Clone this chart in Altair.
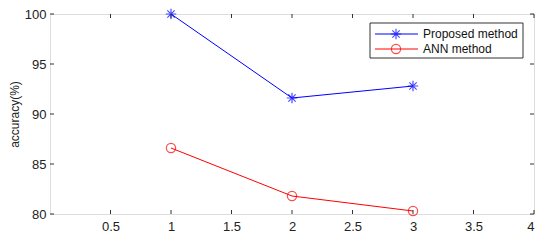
import altair as alt
import pandas as pd

x_vals = [1, 2, 3]
proposed = [100, 91.6, 92.8]
ann = [86.6, 81.8, 80.3]
series_names = ["Proposed method", "ANN method"]
x_ticks = [0.5, 1, 1.5, 2, 2.5, 3, 3.5, 4]
y_ticks = [80, 85, 90, 95, 100]

W, H = 484, 200
FONT = "Liberation Sans"

df = pd.DataFrame({
    "x": x_vals * 2,
    "y": proposed + ann,
    "s": [series_names[0]] * 3 + [series_names[1]] * 3,
})

xs = alt.Scale(domain=[0, 4], nice=False, zero=False)
ys = alt.Scale(domain=[80, 100], nice=False, zero=False)

xax = alt.Axis(values=x_ticks, labelExpr="datum.value", tickSize=0, domain=False, grid=False,
               labelPadding=6, labelFont=FONT, labelFontSize=13, labelColor="#222", title=None)
yax = alt.Axis(values=y_ticks, tickSize=0, domain=False, grid=False, labelPadding=4,
               labelFont=FONT, labelFontSize=13, labelColor="#222", title="accuracy(%)",
               titleFont=FONT, titleFontSize=12, titleFontWeight="normal", titleColor="#222",
               titleX=-41, titleBaseline="top", titleAngle=270)

colors = alt.Scale(domain=series_names, range=["#0000FF", "#FF0000"])

lines = alt.Chart(df).mark_line(strokeWidth=1).encode(
    x=alt.X("x:Q", scale=xs, axis=xax),
    y=alt.Y("y:Q", scale=ys, axis=yax),
    color=alt.Color("s:N", scale=colors, legend=None),
    detail="s:N",
)

star_path = "M0,-1V1M-1,0H1M-0.7,-0.7L0.7,0.7M-0.7,0.7L0.7,-0.7"

stars = alt.Chart(df[df.s == series_names[0]]).mark_point(
    shape=star_path, size=110, strokeWidth=1.2, filled=False, color="#0000FF"
).encode(x=alt.X("x:Q", scale=xs), y=alt.Y("y:Q", scale=ys))

circles = alt.Chart(df[df.s == series_names[1]]).mark_point(
    shape="circle", size=85, strokeWidth=1.2, filled=False, color="#FF0000"
).encode(x=alt.X("x:Q", scale=xs), y=alt.Y("y:Q", scale=ys))

xt = pd.DataFrame({"t": x_ticks})
yt = pd.DataFrame({"t": y_ticks})
tick_color = "#333"
xb = alt.Chart(xt).mark_rule(color=tick_color, strokeWidth=1).encode(
    x=alt.X("t:Q", scale=xs), y=alt.value(H), y2=alt.value(H - 4))
xtop = alt.Chart(xt).mark_rule(color=tick_color, strokeWidth=1).encode(
    x=alt.X("t:Q", scale=xs), y=alt.value(0), y2=alt.value(4))
yl = alt.Chart(yt).mark_rule(color=tick_color, strokeWidth=1).encode(
    y=alt.Y("t:Q", scale=ys), x=alt.value(0), x2=alt.value(4))
yr = alt.Chart(yt).mark_rule(color=tick_color, strokeWidth=1).encode(
    y=alt.Y("t:Q", scale=ys), x=alt.value(W), x2=alt.value(W - 4))

# legend
one = pd.DataFrame({"a": [0]})
box = alt.Chart(one).mark_rect(
    fill="white", stroke="#333", strokeWidth=1
).encode(x=alt.value(320), x2=alt.value(473), y=alt.value(9), y2=alt.value(44))
leg_line0 = alt.Chart(one).mark_rule(color="#0000FF", strokeWidth=1).encode(
    x=alt.value(325), x2=alt.value(368), y=alt.value(20))
leg_line1 = alt.Chart(one).mark_rule(color="#FF0000", strokeWidth=1).encode(
    x=alt.value(325), x2=alt.value(368), y=alt.value(35))
leg_star = alt.Chart(one).mark_point(
    shape=star_path, size=110, strokeWidth=1.2, filled=False, color="#0000FF"
).encode(x=alt.value(346), y=alt.value(20))
leg_circ = alt.Chart(one).mark_point(
    shape="circle", size=85, strokeWidth=1.2, filled=False, color="#FF0000"
).encode(x=alt.value(346), y=alt.value(35))
leg_t0 = alt.Chart(pd.DataFrame({"s": [series_names[0]]})).mark_text(
    align="left", baseline="middle", font=FONT, fontSize=12, color="#111"
).encode(text="s:N", x=alt.value(373), y=alt.value(20))
leg_t1 = alt.Chart(pd.DataFrame({"s": [series_names[1]]})).mark_text(
    align="left", baseline="middle", font=FONT, fontSize=12, color="#111"
).encode(text="s:N", x=alt.value(373), y=alt.value(35))

chart = alt.layer(
    lines, stars, circles, xb, xtop, yl, yr,
    box, leg_line0, leg_line1, leg_star, leg_circ, leg_t0, leg_t1
).properties(
    width=W, height=H,
    autosize=alt.AutoSizeParams(type="none"),
    padding={"left": 42, "top": 6, "right": 8, "bottom": 24},
).configure_view(stroke="#333", strokeWidth=1).configure(background="white")

chart.save("out.html", embed_options={"renderer": "svg", "actions": False})
